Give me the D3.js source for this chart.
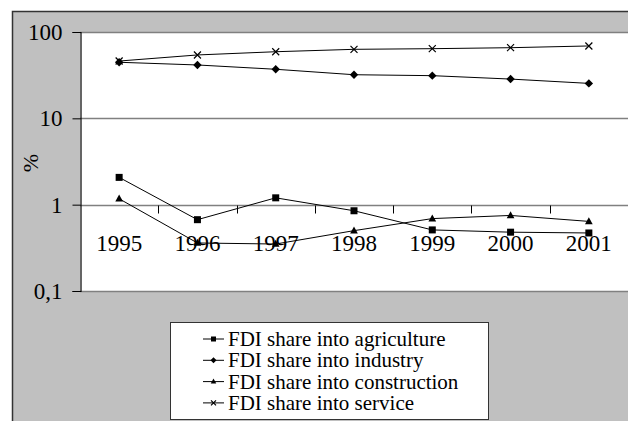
<!DOCTYPE html>
<html><head><meta charset="utf-8">
<script src="https://cdn.jsdelivr.net/npm/d3@7"></script>
<style>
html,body{margin:0;padding:0;background:#fff;}
svg{display:block;}
svg text{font-family:'Liberation Serif', Tinos, 'Times New Roman', serif;}
</style></head>
<body>
<svg id="c" width="628" height="421"></svg>
<script>
const years = ["1995","1996","1997","1998","1999","2000","2001"];
const agriculture = [2.07, 0.67, 1.2, 0.85, 0.51, 0.48, 0.47];
const industry = [44.6, 41.5, 37.0, 32.0, 31.2, 28.5, 25.4];
const construction = [1.17, 0.36, 0.35, 0.5, 0.69, 0.75, 0.64];
const service = [46.1, 54.2, 59.1, 63.0, 64.1, 65.8, 68.9];
const yTicks = [100, 10, 1, 0.1];
const yTickLabels = ["100", "10", "1", "0,1"];
const seriesNames = ["FDI share into agriculture","FDI share into industry","FDI share into construction","FDI share into service"];
const seriesValues = [agriculture, industry, construction, service];
const markers = ["square","diamond","triangle","cross"];

const FONT = "'Liberation Serif', Tinos, 'Times New Roman', serif";
const svg = d3.select("#c");
function setFont(sel, size){
  sel.attr("font-family",FONT).attr("font-size",size).style("font-family",FONT).style("font-size",size+"px").attr("fill","#000");
}
// outer frame
svg.append("rect").attr("x",12.5).attr("y",11.5).attr("width",630).attr("height",420)
  .attr("fill","#c0c0c0").attr("stroke","#333").attr("stroke-width",1.5);

const L=80, R=628, T=32, B=291;
svg.append("rect").attr("x",L).attr("y",T).attr("width",R-L).attr("height",B-T).attr("fill","#fff");

const x = d3.scaleBand().domain(years).range([L,R]).padding(0);
const y = d3.scaleLog().domain([0.1,100]).range([B,T]);

// gridlines
const g = svg.append("g");
g.selectAll("line.grid").data(yTicks).join("line")
  .attr("x1",L).attr("x2",R).attr("y1",d=>Math.round(y(d))+0.5).attr("y2",d=>Math.round(y(d))+0.5)
  .attr("stroke","#808080").attr("stroke-width",1.3);

// y axis
const yAxis = d3.axisLeft(y).tickValues(yTicks).tickFormat((d,i)=>yTickLabels[i]).tickSize(8).tickPadding(10);
const ya = svg.append("g").attr("transform",`translate(${L+0.5},0)`).call(yAxis);
ya.attr("font-family",null).attr("font-size",null);
ya.select(".domain").attr("stroke","#000").attr("stroke-width",1.2);
ya.selectAll(".tick line").attr("stroke","#000");
setFont(ya.selectAll("text"), 23);

// x axis at value 1
const xAxis = d3.axisBottom(x).tickSize(0).tickPadding(29);
const xa = svg.append("g").attr("transform",`translate(0,${Math.round(y(1))+0.5})`).call(xAxis);
xa.attr("font-family",null).attr("font-size",null);
xa.select(".domain").remove();
setFont(xa.selectAll("text"), 23);
const bounds = years.map(d=>x(d)).slice(1);
xa.selectAll("line.bt").data(bounds).join("line").attr("class","bt")
  .attr("x1",d=>Math.round(d)+0.5).attr("x2",d=>Math.round(d)+0.5).attr("y1",0).attr("y2",8)
  .attr("stroke","#000").attr("stroke-width",1);

// % label
setFont(svg.append("text").attr("transform","translate(38,163) rotate(-90)").attr("text-anchor","middle").text("%"), 22);

const cx = d => x(d)+x.bandwidth()/2;
function drawMarker(sel, type, size){
  const s=size;
  if(type==="square") sel.append("rect").attr("x",-s/2).attr("y",-s/2).attr("width",s).attr("height",s).attr("fill","#000");
  else if(type==="diamond") sel.append("path").attr("d",`M0,${-s*0.6}L${s*0.6},0L0,${s*0.6}L${-s*0.6},0Z`).attr("fill","#000");
  else if(type==="triangle") sel.append("path").attr("d",`M0,${-s*0.6}L${s*0.55},${s*0.4}L${-s*0.55},${s*0.4}Z`).attr("fill","#000");
  else if(type==="cross") sel.append("path").attr("d",`M${-s/2},${-s/2}L${s/2},${s/2}M${-s/2},${s/2}L${s/2},${-s/2}`).attr("stroke","#000").attr("stroke-width",1.2).attr("fill","none");
}

const line = d3.line().x((d,i)=>cx(years[i])).y(d=>y(d));
seriesValues.forEach((vals,k)=>{
  svg.append("path").datum(vals).attr("d",line).attr("fill","none").attr("stroke","#000").attr("stroke-width",1);
  vals.forEach((v,i)=>{
    const m = svg.append("g").attr("transform",`translate(${cx(years[i])},${y(v)})`);
    drawMarker(m, markers[k], 7);
  });
});

// legend
const lg = svg.append("g");
lg.append("rect").attr("x",170.5).attr("y",322.5).attr("width",318).attr("height",97)
  .attr("fill","#fff").attr("stroke","#333").attr("stroke-width",1);
seriesNames.forEach((n,i)=>{
  const yy = 339 + i*21.3;
  lg.append("line").attr("x1",203).attr("x2",224).attr("y1",yy).attr("y2",yy).attr("stroke","#000");
  const m = lg.append("g").attr("transform",`translate(213.5,${yy})`);
  drawMarker(m, markers[i], 5);
  setFont(lg.append("text").attr("x",228).attr("y",yy+7).text(n), 21);
});
</script>
</body></html>
